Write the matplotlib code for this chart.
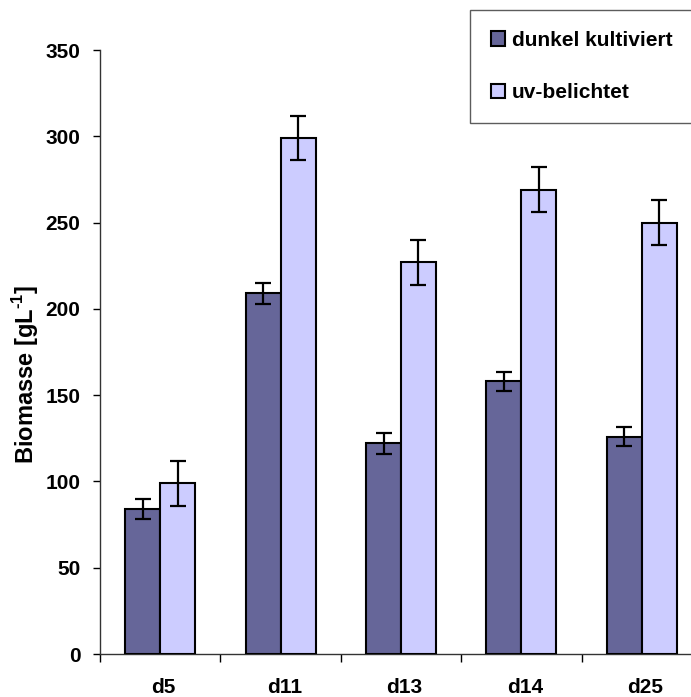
import matplotlib
matplotlib.use("Agg")
import matplotlib.pyplot as plt
import numpy as np

plt.rcParams["font.family"] = ["Liberation Sans", "DejaVu Sans"]
plt.rcParams["font.weight"] = "bold"
plt.rcParams["axes.labelweight"] = "bold"
plt.rcParams["mathtext.fontset"] = "custom"
plt.rcParams["mathtext.rm"] = "Liberation Sans:bold"
plt.rcParams["mathtext.bf"] = "Liberation Sans:bold"

# data
days = ["d5", "d11", "d13", "d14", "d25"]
dunkel = [84, 209, 122, 158, 126]
dunkel_err = [6, 6, 6, 5.5, 5.5]
uv = [99, 299, 227, 269, 250]
uv_err = [13, 13, 13, 13, 13]

DARK = "#666699"
LIGHT = "#CCCCFF"

W, H = 691, 697
fig = plt.figure(figsize=(W / 100, H / 100), dpi=100)
ax = fig.add_axes([100 / W, 43 / H, 602 / W, 604 / H])

x = np.arange(len(days)) + 0.5
w = 0.29
ekw = dict(elinewidth=1.6, capthick=1.6, capsize=5.8, ecolor="black")
ax.bar(x - w / 2, dunkel, w, yerr=dunkel_err, color=DARK, edgecolor="black",
       linewidth=1.5, error_kw=ekw, label="dunkel kultiviert", zorder=3)
ax.bar(x + w / 2, uv, w, yerr=uv_err, color=LIGHT, edgecolor="black",
       linewidth=1.5, error_kw=ekw, label="uv-belichtet", zorder=3)

ax.set_xlim(0, len(days))
ax.set_ylim(0, 350)
ax.set_yticks(np.arange(0, 351, 50))
ax.tick_params(axis="y", labelsize=15, length=5, width=1, pad=9)

ax.set_xticks(np.arange(len(days) + 1))
ax.set_xticklabels([])
ax.tick_params(axis="x", which="major", length=6, width=1)
ax.set_xticks(x + 0.03, minor=True)
ax.set_xticklabels(days, minor=True)
ax.tick_params(axis="x", which="minor", length=0, labelsize=15, pad=17)

for s in ["top", "right"]:
    ax.spines[s].set_visible(False)
for s in ["left", "bottom"]:
    ax.spines[s].set_linewidth(1)
    ax.spines[s].set_color("#333333")

ax.set_ylabel(r"Biomasse [gL$^{\text{-1}}$]", fontsize=17)
ax.yaxis.set_label_coords(-0.098, 0.462)

leg = fig.legend(loc="upper left", bbox_to_anchor=(470 / W, 1 - 10 / H),
                 fontsize=15, frameon=True, fancybox=False, edgecolor="#333333",
                 handlelength=0.7, handleheight=0.7, handletextpad=0.3,
                 labelspacing=1.6, borderpad=1.0, borderaxespad=0)
leg.get_frame().set_linewidth(1)

fig.savefig("out.png", dpi=100, facecolor="white")
